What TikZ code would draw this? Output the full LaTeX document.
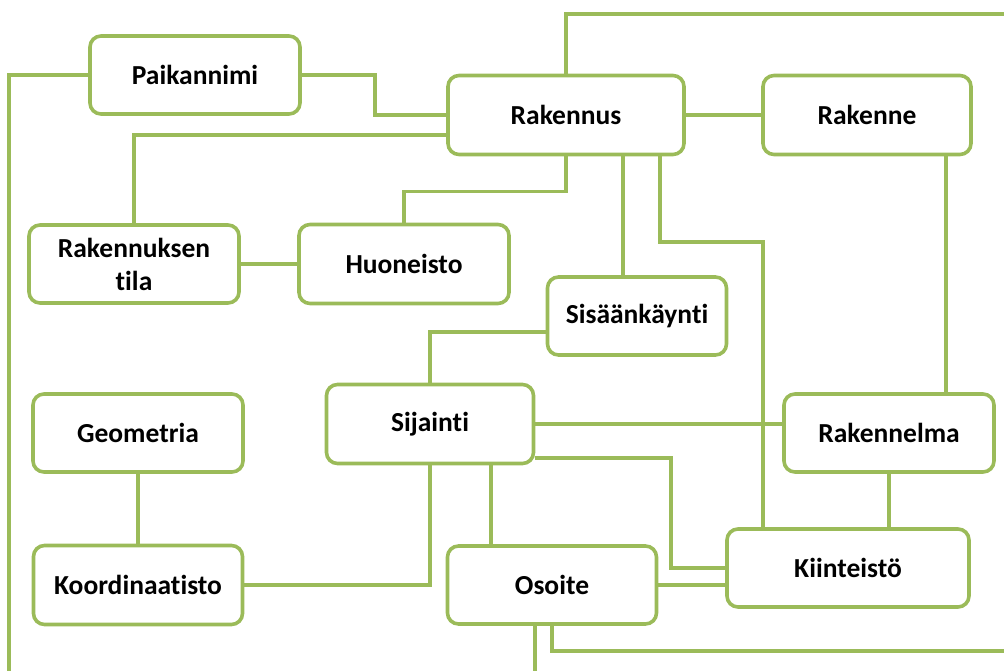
\documentclass[tikz,border=0pt]{standalone}
\usepackage{fontspec}
\setmainfont{Carlito}[Ligatures=NoCommon]
\definecolor{olive}{RGB}{155,187,89}
\begin{document}
\begin{tikzpicture}[x=1pt,y=-1pt,
  box/.style={draw=olive, line width=3.6pt, rounded corners=11pt, fill=white,
    inner sep=0pt, align=center, text=black,
    font=\fontsize{27.5}{33}\selectfont\bfseries},
  link/.style={draw=olive, line width=3.3pt}]
\useasboundingbox (0,0) rectangle (1004,671);

% entity boxes
\node[box, minimum width=210pt, minimum height=78pt] (pk) at (195,75) {Paikannimi};
\node[box, minimum width=236pt, minimum height=79pt] (rk) at (566,115) {Rakennus};
\node[box, minimum width=208pt, minimum height=79pt] (rn) at (867,115) {Rakenne};
\node[box, minimum width=210pt, minimum height=78pt] (rt) at (134,264) {Rakennuksen\\tila};
\node[box, minimum width=210pt, minimum height=79pt] (hu) at (404,264) {Huoneisto};
\node[box, minimum width=179pt, minimum height=78pt] (si) at (637,316) {Sisäänkäynti};
\node[box, minimum width=210pt, minimum height=78pt] (ge) at (138,433) {Geometria};
\node[box, minimum width=207pt, minimum height=79pt] (sj) at (430,424) {Sijainti};
\node[box, minimum width=210pt, minimum height=78pt] (rl) at (889,433) {Rakennelma};
\node[box, minimum width=209pt, minimum height=79pt] (ko) at (138,585) {Koordinaatisto};
\node[box, minimum width=209pt, minimum height=78pt] (os) at (552,585) {Osoite};
\node[box, minimum width=242pt, minimum height=78pt] (ki) at (848,568) {Kiinteistö};

% loose ends running off the page
\coordinate (lb) at (9,671);
\coordinate (tr) at (1004,14);
\coordinate (ob) at (535,671);
\coordinate (orr) at (1004,651);

% connectors
\draw[link] (pk.west) -| (lb);
\draw[link] (pk.east) -| (375,0 |- rk.west) -- (rk.west);
\draw[link] (rk.west |- 0,135) -| (rt.north);
\draw[link] (rk.north) |- (tr);
\draw[link] (rk) -- (rn);
\draw[link] (rk.south) -- ++(0,35) -| (hu.north);
\draw[link] (623,0 |- rk.south) -- (623,0 |- si.north);
\draw[link] (660,0 |- rk.south) |- (763,242) -- (763,0 |- ki.north);
\draw[link] (946,0 |- rn.south) -- (946,0 |- rl.north);
\draw[link] (rt) -- (hu);
\draw[link] (si.west |- 0,332) -| (sj.north);
\draw[link] (sj.east) -- (rl.west |- sj.east);
\draw[link] (sj.east |- 0,458) -| (671,0 |- ki.west) -- (ki.west);
\draw[link] (491,0 |- sj.south) -- (491,0 |- os.north);
\draw[link] (sj.south) |- (ko.east);
\draw[link] (ge) -- (ko);
\draw[link] (rl.south) -- (rl.south |- ki.north);
\draw[link] (os.east) -- (ki.west |- os.east);
\draw[link] (535,0 |- os.south) -- (ob);
\draw[link] (os.south) |- (orr);
\end{tikzpicture}
\end{document}
